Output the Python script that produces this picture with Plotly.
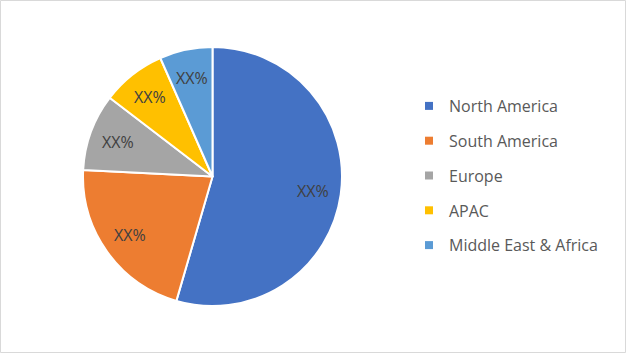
import math
import plotly.graph_objects as go

regions = ["North America", "South America", "Europe", "APAC", "Middle East & Africa"]
shares = [54.5, 21.3, 9.6, 8.0, 6.6]
slice_labels = ["XX%", "XX%", "XX%", "XX%", "XX%"]
colors = ["#4472C4", "#ED7D31", "#A5A5A5", "#FFC000", "#5B9BD5"]

W, H = 626, 353
FONT = "Open Sans, Noto Sans, sans-serif"
DOM_X = [83 / W, 342 / W]
DOM_Y = [(H - 306) / H, (H - 47) / H]

fig = go.Figure()
fig.add_trace(go.Pie(
    labels=regions,
    values=shares,
    textinfo="none",
    sort=False,
    direction="clockwise",
    rotation=0,
    marker=dict(colors=colors, line=dict(color="white", width=2)),
    showlegend=False,
    hoverinfo="label+value",
    domain=dict(x=DOM_X, y=DOM_Y),
))

# slice labels placed along each slice's bisector (derived from the data)
cx = (DOM_X[0] + DOM_X[1]) / 2 * W
cy = (DOM_Y[0] + DOM_Y[1]) / 2 * H
radius = min((DOM_X[1] - DOM_X[0]) * W, (DOM_Y[1] - DOM_Y[0]) * H) / 2
total = sum(shares)
annotations = []
cum = 0.0
for v, t in zip(shares, slice_labels):
    mid = (cum + v / 2) / total * 2 * math.pi
    cum += v
    px = cx + 0.78 * radius * math.sin(mid)
    py = cy + 0.78 * radius * math.cos(mid)
    annotations.append(dict(
        x=px / W, y=py / H, xref="paper", yref="paper",
        text=t, showarrow=False, xanchor="center", yanchor="middle",
        font=dict(family=FONT, size=16, color="#404040"),
    ))

# legend entries (one per region) so spacing can match the reference
for i, (r, c) in enumerate(zip(regions, colors)):
    fig.add_trace(go.Scatter(
        x=[None], y=[None], mode="markers", name=r,
        marker=dict(symbol="square", size=8, color=c),
        legendgroup=f"g{i}", showlegend=True, hoverinfo="skip",
    ))

fig.update_layout(
    width=W, height=H,
    margin=dict(l=0, r=0, t=0, b=0),
    paper_bgcolor="white",
    plot_bgcolor="white",
    xaxis=dict(visible=False),
    yaxis=dict(visible=False),
    annotations=annotations,
    legend=dict(
        x=409 / W, y=1 - 89 / H, xanchor="left", yanchor="top",
        font=dict(family=FONT, size=16, color="#595959"),
        tracegroupgap=11,
        bgcolor="rgba(0,0,0,0)",
        itemwidth=30,
    ),
    shapes=[dict(type="rect", xref="paper", yref="paper",
                 x0=0.5 / W, y0=0.5 / H, x1=1 - 0.5 / W, y1=1 - 0.5 / H,
                 line=dict(color="#D9D9D9", width=1), layer="above")],
)

fig.write_html("out.html")
